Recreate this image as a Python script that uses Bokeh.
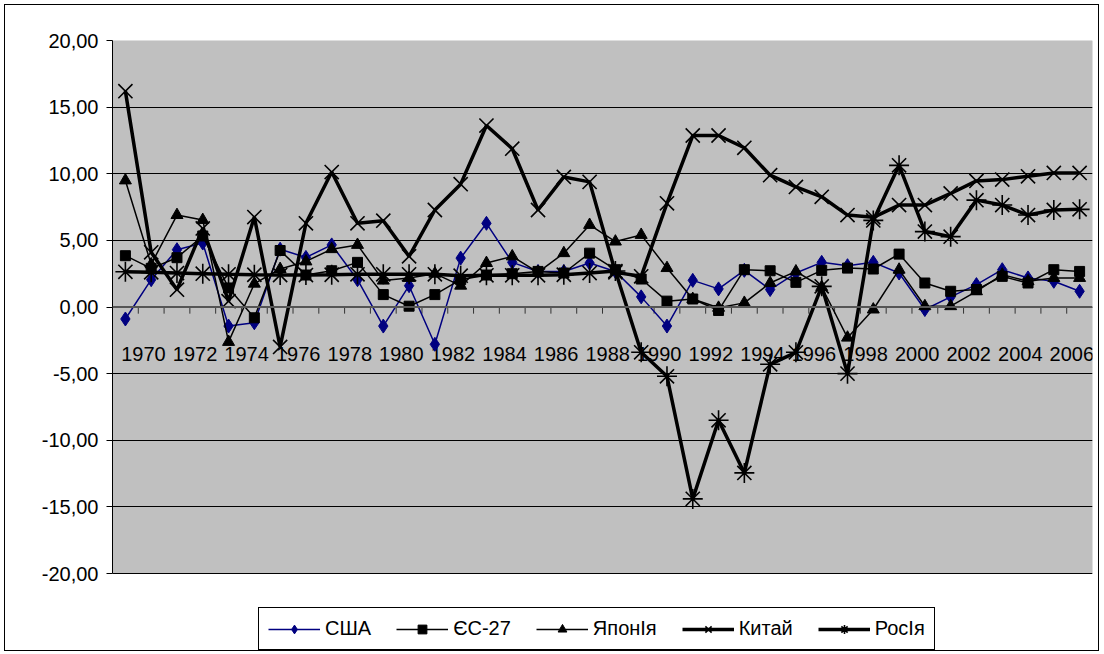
from bokeh.plotting import figure
from bokeh.models import (FixedTicker, Legend, LegendItem, Range1d, Span, ColumnDataSource,
                          BoxAnnotation)
from bokeh.embed import file_html
from bokeh.resources import INLINE
from bokeh.core.properties import value

years = list(range(1970, 2008))
usa = [-0.9, 2.05, 4.3, 4.8, -1.43, -1.18, 4.34, 3.72, 4.66, 2.05, -1.43, 1.6, -2.8, 3.67, 6.28,
       3.35, 2.67, 2.67, 3.3, 2.67, 0.76, -1.43, 2.0, 1.36, 2.75, 1.31, 2.55, 3.35, 3.1, 3.35,
       2.55, -0.19, 0.76, 1.68, 2.8, 2.18, 1.93, 1.18]
eu = [3.85, 2.9, 3.7, 5.33, 1.43, -0.81, 4.24, 2.4, 2.72, 3.35, 0.93, 0.06, 0.93, 2.05, 2.4,
      2.5, 2.67, 2.55, 4.04, 2.8, 2.1, 0.44, 0.6, -0.26, 2.8, 2.72, 1.85, 2.75, 2.92, 2.85,
      3.97, 1.8, 1.18, 1.31, 2.3, 1.8, 2.8, 2.67]
japan = [9.5, 3.2, 6.9, 6.53, -2.62, 1.75, 2.85, 3.42, 4.34, 4.66, 1.98, 2.18, 2.5, 1.6, 3.3,
         3.8, 2.6, 4.04, 6.16, 4.91, 5.41, 2.92, 0.6, -0.06, 0.31, 1.8, 2.67, 1.5, -2.3, -0.19,
         2.8, 0.06, 0.06, 1.18, 2.43, 1.93, 2.18, 2.18]
china = [16.2, 4.1, 1.3, 5.9, 0.44, 6.75, -3.0, 6.28, 10.13, 6.28, 6.48, 3.8, 7.28, 9.22, 13.62,
         11.88, 7.28, 9.76, 9.39, 2.6, 2.3, 7.78, 12.87, 12.87, 11.95, 9.89, 9.01, 8.27, 6.9, 6.73,
         7.65, 7.65, 8.52, 9.46, 9.56, 9.81, 10.06, 10.06]
russia = [2.64, 2.6, 2.55, 2.5, 2.45, 2.42, 2.4, 2.4, 2.42, 2.45, 2.45, 2.45, 2.45, 2.35, 2.38,
          2.38, 2.38, 2.42, 2.55, 2.7, -3.4, -5.2, -14.4, -8.5, -12.45, -4.3, -3.4, 1.55, -5.0, 6.5,
          10.63, 5.66, 5.28, 8.02, 7.65, 6.9, 7.28, 7.33]
series_names = ["США", "ЄС-27", "ЯпонІя", "Китай", "РосІя"]
label_years = list(range(1970, 2007, 2))
y_ticks = [-20, -15, -10, -5, 0, 5, 10, 15, 20]

FONT = "Liberation Sans"
Y_MIN, Y_MAX = -20, 20
# frame: 610 px tall, plot area (-20..20) occupies top 533 px; rest holds the legend
Y_BOTTOM = Y_MAX - 610 * (Y_MAX - Y_MIN) / 533

p = figure(width=1095, height=647, output_backend="svg", toolbar_location=None,
           x_range=Range1d(years[0] - 0.5, years[-1] + 0.5), y_range=Range1d(Y_BOTTOM, Y_MAX),
           x_axis_type=None, min_border_left=107, min_border_top=35,
           min_border_right=8, min_border_bottom=2)
p.styles = {"border": "1px solid black", "margin": "4px 0 0 4px"}
p.background_fill_color = "white"
p.border_fill_color = "white"
p.outline_line_color = None

p.add_layout(BoxAnnotation(left=years[0] - 0.5, right=years[-1] + 0.5, bottom=Y_MIN, top=Y_MAX,
                           fill_color="#C0C0C0", fill_alpha=1, line_color="#808080",
                           line_width=1, level="image"))

p.yaxis.ticker = FixedTicker(ticks=y_ticks)
p.yaxis.bounds = (Y_MIN, Y_MAX)
p.yaxis.major_label_overrides = {t: f"{t},00" for t in y_ticks}
p.yaxis.minor_tick_line_color = None
p.yaxis.major_tick_in = 0
p.yaxis.major_tick_out = 6
p.yaxis.axis_line_color = "black"
p.yaxis.major_tick_line_color = "black"
p.yaxis.major_label_text_font = FONT
p.yaxis.major_label_text_font_size = "20px"
p.yaxis.major_label_text_color = "black"
p.yaxis.major_label_standoff = 8
p.ygrid.grid_line_color = "black"
p.ygrid.grid_line_width = 1
p.xgrid.grid_line_color = None

# category axis at zero
p.add_layout(Span(location=0, dimension="width", line_color="#555555", line_width=2))
bounds = [y + 0.5 for y in years[:-1]]
p.segment(x0=bounds, x1=bounds, y0=[0] * len(bounds), y1=[-0.5] * len(bounds),
          line_color="#333333", line_width=1)
p.text(x=[y + 0.7 for y in label_years], y=[-3.5] * len(label_years),
       text=[str(y) for y in label_years], text_align="center", text_baseline="middle",
       text_font=value(FONT), text_font_size="20px", text_color="black")

styles = [
    (usa, "#000080", 1.5, "diamond", 14, 1),
    (eu, "black", 1.5, "square", 10, 1),
    (japan, "black", 1.5, "triangle", 12, 1),
    (china, "black", 3.5, "x", 20, 1.6),
    (russia, "black", 3.5, "asterisk", 20, 1.6),
]
items = []
for name, (vals, col, lw, mk, sz, mlw) in zip(series_names, styles):
    src = ColumnDataSource(dict(x=years, y=vals))
    r1 = p.line("x", "y", source=src, line_color=col, line_width=lw)
    r2 = p.scatter("x", "y", source=src, marker=mk, size=sz, fill_color=col,
                   line_color=col, line_width=mlw)
    items.append(LegendItem(label=name, renderers=[r1, r2]))

legend = Legend(items=items, orientation="horizontal", location=(146, 0),
                border_line_color="black", border_line_width=1, border_line_alpha=1,
                background_fill_color="white", background_fill_alpha=1,
                label_text_font=FONT, label_text_font_size="20px", label_text_color="black",
                glyph_width=52, glyph_height=22, label_height=20, label_standoff=5, spacing=25,
                padding=9, margin=0)
p.add_layout(legend, "center")

open("out.html", "w").write(file_html(p, INLINE))
